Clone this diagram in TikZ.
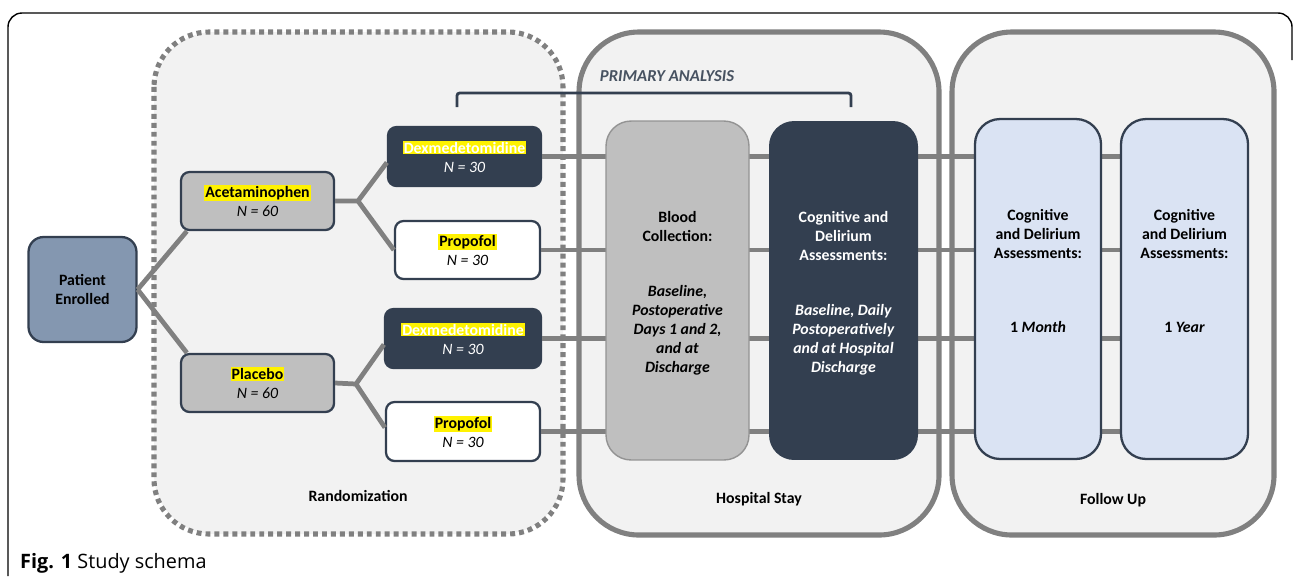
\documentclass[tikz,border=0pt]{standalone}
\usepackage{fontspec}
\setmainfont{Carlito}
\newfontfamily\capfont{Open Sans}
\usetikzlibrary{positioning}

\definecolor{navy}{HTML}{333F50}
\definecolor{slate}{HTML}{8497B0}
\definecolor{midgray}{HTML}{BFBFBF}
\definecolor{linegray}{HTML}{808080}
\definecolor{panel}{HTML}{F2F2F2}
\definecolor{paleblue}{HTML}{DAE3F3}

\newcommand{\hl}[1]{{\setlength{\fboxsep}{0.6pt}\colorbox{yellow}{#1}}}

\begin{document}
\begin{tikzpicture}[
    x=0.02cm, y=-0.02cm,
    every node/.style={font=\fontsize{9pt}{10.8pt}\selectfont, align=center},
    phase/.style={draw=linegray, line width=2.9pt, fill=panel, rounded corners=1.2cm},
    arm/.style={rectangle, draw=navy, line width=1.3pt, rounded corners=0.17cm, minimum width=3.06cm, minimum height=1.16cm, inner sep=1pt},
    tall/.style={rectangle, rounded corners=0.5cm, minimum height=6.78cm},
    talltext/.style={inner sep=2pt},
    link/.style={draw=linegray, line width=2.7pt},
    bracket/.style={draw=navy, line width=1.6pt, rounded corners=1.5pt},
    phaselabel/.style={font=\fontsize{9pt}{10.8pt}\selectfont\bfseries}
]
\useasboundingbox (0,0) rectangle (1293,576);

% Frame and caption
\draw[line width=0.8pt, rounded corners=0.28cm] (8,576) -- (8,13) -- (1292,13) -- (1292,60);
\node[anchor=west, font=\capfont\fontsize{11.3pt}{13pt}\selectfont] (cap) at (14,563) {\textbf{Fig. 1} Study schema};

% Phases
\draw[phase, draw=none] (154,32) rectangle (563,534);
\draw[draw=linegray, line width=2.9pt, dash pattern=on 2.8pt off 2.3pt, rounded corners=1.1cm] (154,32) rectangle (563,534);
\draw[phase] (579,32) rectangle (939,535);
\draw[phase] (952,32) rectangle (1274,535);
\node[phaselabel] (rand) at (358,496) {Randomization};
\node[phaselabel] (stay) at (759,499) {Hospital Stay};
\node[phaselabel] (follow) at (1113,500) {Follow Up};

% Primary analysis
\node[font=\fontsize{9.5pt}{11pt}\selectfont\bfseries\itshape, text=navy!90!white] (prim) at (667,76) {PRIMARY ANALYSIS};
\coordinate (pa1) at (457,107);
\coordinate (pa2) at (851,107);
\draw[bracket] (pa1) |- (pa2 |- 0,93) -- (pa2);

% Patient and randomisation arms
\node[arm, fill=slate, rounded corners=0.3cm, minimum width=2.16cm, minimum height=2.1cm] (pat) at (82.5,289.5) {\textbf{Patient}\\\textbf{Enrolled}};
\node[arm, fill=midgray] (acet) at (257.5,201) {\textbf{\hl{Acetaminophen}}\\\textit{N = 60}};
\node[arm, fill=midgray] (plac) at (257.5,383) {\textbf{\hl{Placebo}}\\\textit{N = 60}};
\node[arm, fill=navy, text=white, minimum width=3.06cm, minimum height=1.18cm] (dexA) at (464.5,156.5) {\textbf{\hl{Dexmedetomidine}}\\\textit{N = 30}};
\node[arm, fill=white, minimum width=2.9cm] (propA) at (467.5,250) {\textbf{\hl{Propofol}}\\\textit{N = 30}};
\node[arm, fill=navy, text=white, minimum width=3.12cm, minimum height=1.18cm] (dexB) at (463,338.5) {\textbf{\hl{Dexmedetomidine}}\\\textit{N = 30}};
\node[arm, fill=white, minimum width=3.08cm, minimum height=1.18cm] (propB) at (463,431.5) {\textbf{\hl{Propofol}}\\\textit{N = 30}};

% Tree
\coordinate (splitA) at (358,201);
\coordinate (splitB) at (356,384);
\draw[link] (pat.east) -- ([xshift=0.14cm]acet.south west);
\draw[link] (pat.east) -- ([xshift=0.14cm]plac.north west);
\draw[link] (acet.east) -- (splitA) -- ([yshift=-0.12cm]dexA.west);
\draw[link] (splitA) -- (propA.west);
\draw[link] (plac.east) -- (splitB) -- ([yshift=-0.12cm]dexB.west);
\draw[link] (splitB) -- ([yshift=0.08cm]propB.west);

% Arms run through the assessments
\coordinate (lineend) at (1140,0);
\draw[link] (dexA.east) -- (dexA.east -| lineend);
\draw[link] (propA.east) -- (propA.east -| lineend);
\draw[link] (dexB.east) -- (dexB.east -| lineend);
\draw[link] (propB.east) -- (propB.east -| lineend);

% Hospital stay
\node[tall, fill=midgray, draw=linegray!85!white, line width=0.8pt, minimum width=2.86cm] (blood) at (677.5,290.5) {};
\node[tall, fill=navy, minimum width=2.98cm] (cogH) at (843.5,290.5) {};
\node[talltext, below=1.74cm of blood.north] (bloodtxt) {\textbf{Blood}\\\textbf{Collection:}\\[20.5pt]\textit{\textbf{Baseline,}}\\\textit{\textbf{Postoperative}}\\\textit{\textbf{Days 1 and 2,}}\\\textit{\textbf{and at}}\\\textit{\textbf{Discharge}}};
\node[talltext, text=white, below=1.74cm of cogH.north] (cogHtxt) {\textbf{Cognitive and}\\\textbf{Delirium}\\\textbf{Assessments:}\\[20.5pt]\textit{\textbf{Baseline, Daily}}\\\textit{\textbf{Postoperatively}}\\\textit{\textbf{and at Hospital}}\\\textit{\textbf{Discharge}}};

% Follow up
\node[tall, fill=paleblue, draw=navy, line width=1.3pt, minimum width=2.52cm, minimum height=6.8cm] (fu1) at (1038,289) {};
\node[tall, fill=paleblue, draw=navy, line width=1.3pt, minimum width=2.54cm, minimum height=6.8cm] (fu2) at (1184.5,289) {};
\node[talltext, below=1.76cm of fu1.north] (fu1txt) {\textbf{Cognitive}\\\textbf{and Delirium}\\\textbf{Assessments:}\\[31pt]\textbf{1 \textit{Month}}};
\node[talltext, below=1.76cm of fu2.north] (fu2txt) {\textbf{Cognitive}\\\textbf{and Delirium}\\\textbf{Assessments:}\\[31pt]\textbf{1 \textit{Year}}};

\end{tikzpicture}
\end{document}
